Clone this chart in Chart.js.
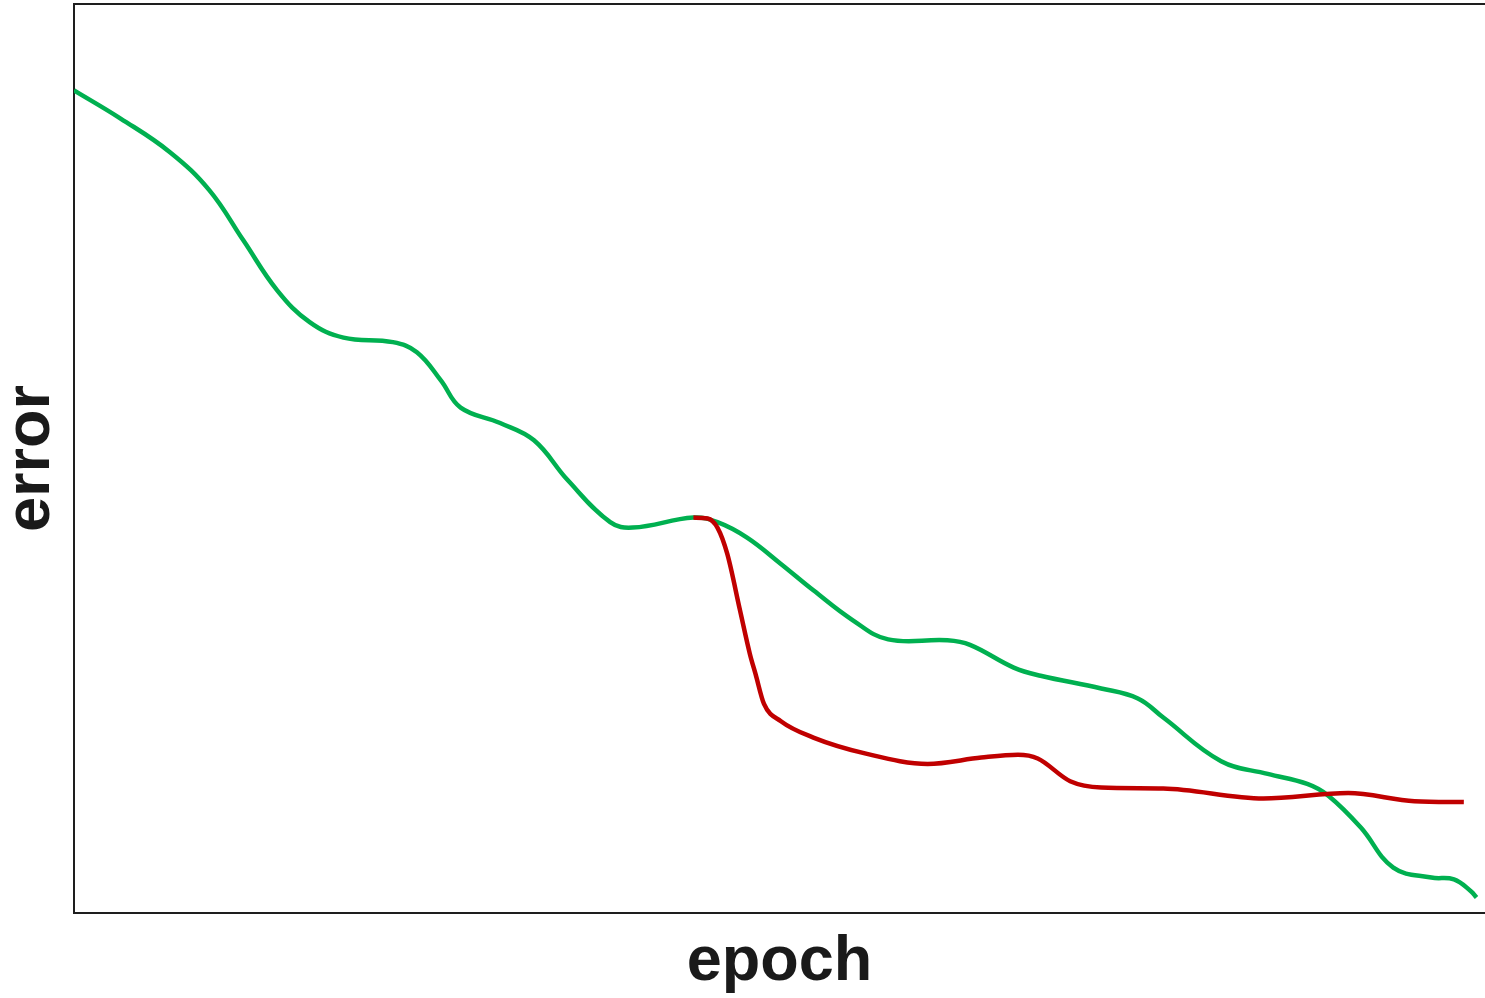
<!DOCTYPE html>
<html>
<head>
<meta charset="utf-8">
<title>error vs epoch</title>
<script src="https://cdn.jsdelivr.net/npm/chart.js@4/dist/chart.umd.min.js"></script>
<style>
  html, body { margin: 0; padding: 0; background: #fff; }
  #wrap { width: 1485px; height: 998px; }
</style>
</head>
<body>
<div id="wrap"><canvas id="grafico"></canvas></div>
<script>
// full training run
const baseEpochs = [0, 3.3, 6.8, 9.6, 12.0, 14.4, 16.7, 19.1, 22.6, 24.3, 26.0, 27.4, 30.2, 32.6, 35.0, 38.0, 39.6, 43.9, 45.6, 47.7, 50.1, 52.4, 55.2, 57.7, 61.9, 63.5, 66.6, 68.5, 72.8, 75.4, 77.2, 81.3, 84.6, 87.4, 88.9, 91.2, 93.5, 96.2, 97.8, 99.0, 99.4]
const baseError = [0.905, 0.874, 0.837, 0.795, 0.740, 0.685, 0.650, 0.633, 0.628, 0.617, 0.586, 0.556, 0.539, 0.520, 0.476, 0.430, 0.424, 0.435, 0.430, 0.413, 0.384, 0.355, 0.322, 0.301, 0.300, 0.295, 0.270, 0.261, 0.247, 0.236, 0.215, 0.167, 0.153, 0.142, 0.129, 0.094, 0.050, 0.039, 0.037, 0.024, 0.017]

// run branching off at the plateau
const branchEpochs = [43.9, 44.9, 45.6, 46.3, 47.2, 47.9, 48.3, 48.9, 50.1, 52.4, 56.2, 60.5, 64.3, 66.9, 68.3, 70.6, 72.8, 77.2, 84.3, 90.3, 95.0, 98.5]
const branchError = [0.435, 0.434, 0.424, 0.395, 0.333, 0.285, 0.263, 0.230, 0.211, 0.193, 0.175, 0.164, 0.171, 0.174, 0.170, 0.145, 0.138, 0.137, 0.126, 0.132, 0.123, 0.122]

const toPoints = (xs, ys) => xs.map((x, i) => ({ x: x, y: ys[i] }))

const axisColor = '#1e1e1e'
const titleFont = { family: "'Liberation Sans', Arial, sans-serif", size: 63, weight: 'bold', lineHeight: 1 }

// top edge of the frame
const topBorder = {
  id: 'topBorder',
  afterDraw(chart) {
    const { ctx, chartArea } = chart
    ctx.save()
    ctx.strokeStyle = axisColor
    ctx.lineWidth = 2
    ctx.beginPath()
    ctx.moveTo(chartArea.left, chartArea.top)
    ctx.lineTo(chartArea.right, chartArea.top)
    ctx.stroke()
    ctx.restore()
  }
}

new Chart(document.getElementById('grafico'), {
  type: 'line',
  data: {
    datasets: [{
      label: 'branch',
      data: toPoints(branchEpochs, branchError),
      borderColor: '#C00000',
      borderWidth: 4.5,
      pointRadius: 0,
      cubicInterpolationMode: 'monotone',
      fill: false
    }, {
      label: 'base',
      data: toPoints(baseEpochs, baseError),
      borderColor: '#00B050',
      borderWidth: 4.5,
      pointRadius: 0,
      tension: 0.4,
      fill: false
    }]
  },
  options: {
    responsive: true,
    maintainAspectRatio: false,
    animation: false,
    layout: { padding: { top: 4, right: 0, left: 0, bottom: 0 } },
    plugins: {
      legend: { display: false },
      tooltip: { enabled: false }
    },
    scales: {
      x: {
        type: 'linear',
        min: 0,
        max: 100,
        grid: { display: false },
        ticks: { display: false },
        border: { display: true, color: axisColor, width: 2 },
        title: {
          display: true,
          text: 'epoch',
          color: '#1a1a1a',
          font: titleFont,
          padding: { top: 10, bottom: 4 }
        }
      },
      y: {
        min: 0,
        max: 1,
        grid: { display: false },
        ticks: { display: false },
        border: { display: true, color: axisColor, width: 2 },
        title: {
          display: true,
          text: 'error',
          color: '#1a1a1a',
          font: titleFont,
          padding: { top: 0, bottom: 3 }
        }
      }
    }
  },
  plugins: [topBorder]
})
</script>
</body>
</html>
